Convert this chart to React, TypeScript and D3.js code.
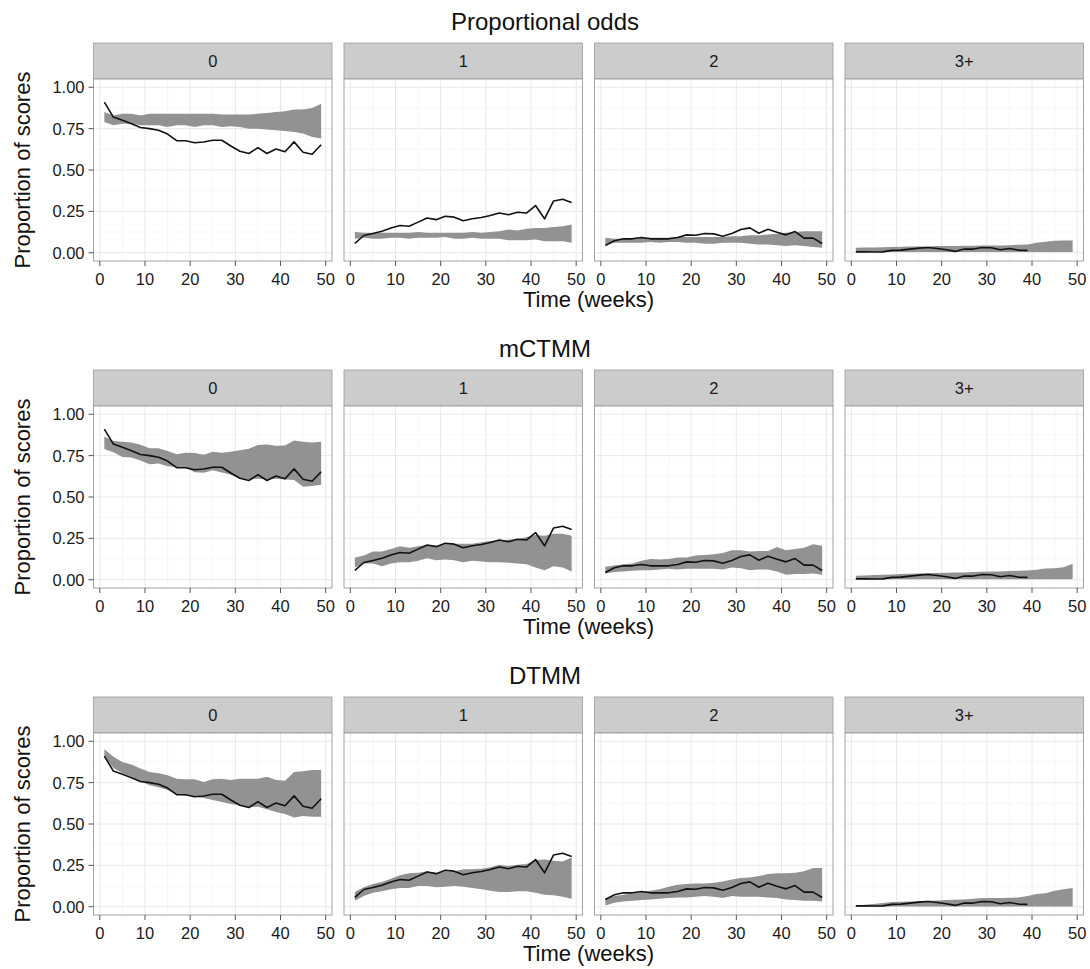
import React from "react";
import * as d3 from "d3";

// time points (weeks)
const weeks = [1, 3, 5, 7, 9, 11, 13, 15, 17, 19, 21, 23, 25, 27, 29, 31, 33, 35, 37, 39, 41, 43, 45, 47, 49];
const categories = ["0", "1", "2", "3+"];
const models = ["Proportional odds", "mCTMM", "DTMM"];
const xTicks = [0, 10, 20, 30, 40, 50];
const yTicks = [0, 0.25, 0.5, 0.75, 1];

// observed proportions (same in every row)
const observed0 = [0.91, 0.82, 0.8, 0.78, 0.757, 0.75, 0.74, 0.717, 0.677, 0.677, 0.665, 0.669, 0.68, 0.68, 0.645, 0.613, 0.6, 0.635, 0.6, 0.627, 0.61, 0.67, 0.607, 0.595, 0.653];
const observed1 = [0.056, 0.104, 0.116, 0.13, 0.15, 0.165, 0.16, 0.185, 0.21, 0.2, 0.22, 0.215, 0.193, 0.205, 0.213, 0.225, 0.24, 0.23, 0.245, 0.24, 0.285, 0.205, 0.313, 0.323, 0.303];
const observed2 = [0.044, 0.072, 0.084, 0.084, 0.092, 0.084, 0.084, 0.084, 0.092, 0.108, 0.106, 0.116, 0.114, 0.1, 0.116, 0.14, 0.15, 0.118, 0.142, 0.124, 0.108, 0.128, 0.088, 0.088, 0.056];
const observed3 = [0.005, 0.005, 0.004, 0.005, 0.014, 0.016, 0.022, 0.028, 0.032, 0.026, 0.018, 0.008, 0.022, 0.022, 0.032, 0.03, 0.018, 0.026, 0.016, 0.014];

// Proportional odds bands
const poUpper0 = [0.85, 0.83, 0.84, 0.84, 0.83, 0.84, 0.84, 0.84, 0.84, 0.84, 0.84, 0.84, 0.84, 0.835, 0.835, 0.835, 0.835, 0.84, 0.845, 0.85, 0.855, 0.865, 0.865, 0.875, 0.9];
const poLower0 = [0.79, 0.77, 0.78, 0.78, 0.77, 0.77, 0.77, 0.76, 0.77, 0.77, 0.76, 0.77, 0.77, 0.76, 0.765, 0.76, 0.75, 0.75, 0.745, 0.74, 0.735, 0.73, 0.72, 0.7, 0.69];
const poUpper1 = [0.125, 0.12, 0.12, 0.12, 0.12, 0.12, 0.12, 0.125, 0.12, 0.12, 0.12, 0.12, 0.12, 0.125, 0.12, 0.125, 0.13, 0.14, 0.135, 0.145, 0.15, 0.15, 0.155, 0.16, 0.17];
const poLower1 = [0.085, 0.09, 0.085, 0.085, 0.09, 0.09, 0.085, 0.09, 0.09, 0.09, 0.095, 0.085, 0.085, 0.09, 0.085, 0.085, 0.085, 0.075, 0.075, 0.075, 0.08, 0.07, 0.07, 0.07, 0.06];
const poUpper2 = [0.09, 0.085, 0.085, 0.09, 0.09, 0.09, 0.09, 0.09, 0.095, 0.095, 0.095, 0.095, 0.095, 0.095, 0.1, 0.1, 0.105, 0.105, 0.11, 0.115, 0.12, 0.125, 0.13, 0.13, 0.13];
const poLower2 = [0.05, 0.06, 0.06, 0.06, 0.06, 0.065, 0.06, 0.065, 0.065, 0.06, 0.06, 0.055, 0.055, 0.06, 0.06, 0.06, 0.055, 0.05, 0.05, 0.045, 0.04, 0.045, 0.04, 0.035, 0.03];
const poUpper3 = [0.03, 0.031, 0.032, 0.033, 0.035, 0.036, 0.037, 0.038, 0.038, 0.04, 0.04, 0.041, 0.042, 0.042, 0.043, 0.044, 0.044, 0.045, 0.048, 0.05, 0.06, 0.066, 0.072, 0.074, 0.074];
const poLower3 = [0.004, 0.004, 0.004, 0.004, 0.004, 0.005, 0.005, 0.005, 0.005, 0.005, 0.005, 0.005, 0.005, 0.005, 0.005, 0.005, 0.005, 0.005, 0.005, 0.005, 0.005, 0.005, 0.005, 0.005, 0.005];

// mCTMM bands
const mcUpper0 = [0.866, 0.838, 0.834, 0.83, 0.816, 0.794, 0.794, 0.778, 0.758, 0.768, 0.766, 0.756, 0.774, 0.768, 0.774, 0.782, 0.792, 0.814, 0.818, 0.81, 0.812, 0.842, 0.834, 0.83, 0.834];
const mcLower0 = [0.79, 0.77, 0.742, 0.738, 0.72, 0.698, 0.702, 0.686, 0.682, 0.678, 0.65, 0.646, 0.662, 0.648, 0.634, 0.614, 0.606, 0.61, 0.606, 0.61, 0.606, 0.602, 0.562, 0.566, 0.574];
const mcUpper1 = [0.134, 0.146, 0.17, 0.17, 0.186, 0.202, 0.194, 0.202, 0.21, 0.206, 0.214, 0.218, 0.218, 0.218, 0.226, 0.234, 0.238, 0.242, 0.246, 0.258, 0.27, 0.266, 0.278, 0.278, 0.266];
const mcLower1 = [0.074, 0.098, 0.098, 0.082, 0.098, 0.106, 0.106, 0.114, 0.13, 0.118, 0.122, 0.118, 0.106, 0.114, 0.11, 0.106, 0.106, 0.102, 0.098, 0.094, 0.074, 0.058, 0.082, 0.074, 0.05];
const mcUpper2 = [0.078, 0.086, 0.094, 0.098, 0.114, 0.126, 0.122, 0.126, 0.134, 0.134, 0.146, 0.15, 0.154, 0.162, 0.178, 0.178, 0.17, 0.174, 0.174, 0.198, 0.178, 0.186, 0.194, 0.214, 0.206];
const mcLower2 = [0.038, 0.046, 0.05, 0.054, 0.058, 0.058, 0.062, 0.066, 0.062, 0.066, 0.066, 0.066, 0.066, 0.062, 0.074, 0.07, 0.058, 0.062, 0.062, 0.05, 0.03, 0.034, 0.034, 0.038, 0.03];
const mcUpper3 = [0.024, 0.026, 0.028, 0.03, 0.032, 0.034, 0.036, 0.038, 0.04, 0.041, 0.042, 0.043, 0.044, 0.046, 0.048, 0.049, 0.05, 0.052, 0.054, 0.056, 0.06, 0.068, 0.07, 0.076, 0.096];
const mcLower3 = [0.003, 0.003, 0.003, 0.003, 0.003, 0.003, 0.003, 0.003, 0.003, 0.003, 0.003, 0.003, 0.003, 0.003, 0.003, 0.003, 0.003, 0.003, 0.003, 0.003, 0.003, 0.003, 0.003, 0.003, 0.003];

// DTMM bands
const dtUpper0 = [0.952, 0.907, 0.875, 0.859, 0.835, 0.815, 0.806, 0.794, 0.774, 0.77, 0.77, 0.754, 0.77, 0.774, 0.766, 0.774, 0.774, 0.774, 0.786, 0.766, 0.762, 0.815, 0.819, 0.827, 0.827];
const dtLower0 = [0.907, 0.839, 0.806, 0.786, 0.758, 0.734, 0.722, 0.706, 0.677, 0.673, 0.665, 0.657, 0.645, 0.633, 0.621, 0.613, 0.601, 0.605, 0.589, 0.573, 0.56, 0.54, 0.548, 0.544, 0.544];
const dtUpper1 = [0.089, 0.117, 0.137, 0.149, 0.169, 0.19, 0.202, 0.206, 0.214, 0.202, 0.214, 0.214, 0.226, 0.226, 0.23, 0.238, 0.254, 0.246, 0.254, 0.258, 0.282, 0.286, 0.278, 0.274, 0.298];
const dtLower1 = [0.036, 0.065, 0.085, 0.093, 0.105, 0.113, 0.113, 0.125, 0.125, 0.117, 0.121, 0.125, 0.121, 0.113, 0.105, 0.097, 0.089, 0.089, 0.093, 0.093, 0.085, 0.073, 0.069, 0.06, 0.048];
const dtUpper2 = [0.048, 0.065, 0.073, 0.081, 0.089, 0.097, 0.105, 0.121, 0.133, 0.137, 0.141, 0.141, 0.145, 0.153, 0.165, 0.173, 0.177, 0.185, 0.198, 0.202, 0.202, 0.206, 0.214, 0.234, 0.234];
const dtLower2 = [0.008, 0.024, 0.032, 0.036, 0.04, 0.044, 0.048, 0.052, 0.056, 0.056, 0.06, 0.065, 0.06, 0.052, 0.065, 0.06, 0.06, 0.06, 0.056, 0.052, 0.044, 0.04, 0.036, 0.036, 0.032];
const dtUpper3 = [0.008, 0.012, 0.016, 0.022, 0.028, 0.03, 0.032, 0.034, 0.036, 0.038, 0.04, 0.042, 0.044, 0.048, 0.052, 0.052, 0.052, 0.054, 0.056, 0.065, 0.077, 0.081, 0.097, 0.105, 0.113];
const dtLower3 = [0.001, 0.001, 0.001, 0.001, 0.001, 0.001, 0.001, 0.001, 0.001, 0.001, 0.001, 0.001, 0.001, 0.001, 0.001, 0.001, 0.001, 0.001, 0.001, 0.001, 0.001, 0.001, 0.001, 0.001, 0.001];

const observed = [observed0, observed1, observed2, observed3];
const bands = [
  [[poLower0, poUpper0], [poLower1, poUpper1], [poLower2, poUpper2], [poLower3, poUpper3]],
  [[mcLower0, mcUpper0], [mcLower1, mcUpper1], [mcLower2, mcUpper2], [mcLower3, mcUpper3]],
  [[dtLower0, dtUpper0], [dtLower1, dtUpper1], [dtLower2, dtUpper2], [dtLower3, dtUpper3]],
];

const width = 1090;
const height = 969;
const font = "'Liberation Sans', Arial, Helvetica, sans-serif";

const panelLeft = 93.5;
const panelPitch = 250.5;
const panelW = 238.5;
const rowTop = 43;
const rowPitch = 327;
const stripH = 36;
const panelH = 182;

const x = d3.scaleLinear().domain([-1.4, 51.4]).range([0, panelW]);
const y = d3.scaleLinear().domain([-0.05, 1.05]).range([panelH, 0]);

const xMinor = [5, 15, 25, 35, 45];
const yMinor = [0.125, 0.375, 0.625, 0.875];

const Panel = ({ m, c }: { m: number; c: number }) => {
  const [lower, upper] = bands[m][c];
  const obs = observed[c];
  const area = d3
    .area<number>()
    .x((d, i) => x(weeks[i]))
    .y0((d, i) => y(lower[i]))
    .y1((d) => y(d));
  const line = d3
    .line<number>()
    .x((d, i) => x(weeks[i]))
    .y((d) => y(d));

  const left = panelLeft + c * panelPitch;
  const top = rowTop + m * rowPitch;

  return (
    <g transform={`translate(${left},${top})`}>
      {/* strip */}
      <rect x={0} y={0} width={panelW} height={stripH} fill="#cccccc" stroke="#9a9a9a" strokeWidth={0.8} />
      <text x={panelW / 2} y={stripH / 2} dy="0.36em" textAnchor="middle" fontSize={16.5} fill="#1a1a1a">
        {categories[c]}
      </text>
      <g transform={`translate(0,${stripH})`}>
        <rect x={0} y={0} width={panelW} height={panelH} fill="white" />
        {xMinor.map((t) => (
          <line key={"xm" + t} x1={x(t)} x2={x(t)} y1={0} y2={panelH} stroke="#f5f5f5" strokeWidth={0.8} />
        ))}
        {yMinor.map((t) => (
          <line key={"ym" + t} x1={0} x2={panelW} y1={y(t)} y2={y(t)} stroke="#f5f5f5" strokeWidth={0.8} />
        ))}
        {xTicks.map((t) => (
          <line key={"xg" + t} x1={x(t)} x2={x(t)} y1={0} y2={panelH} stroke="#e8e8e8" strokeWidth={1} />
        ))}
        {yTicks.map((t) => (
          <line key={"yg" + t} x1={0} x2={panelW} y1={y(t)} y2={y(t)} stroke="#e8e8e8" strokeWidth={1} />
        ))}
        <path d={area(upper) || ""} fill="#929292" />
        <path d={line(obs) || ""} fill="none" stroke="#111" strokeWidth={1.6} strokeLinejoin="round" />
        <rect x={0} y={0} width={panelW} height={panelH} fill="none" stroke="#9a9a9a" strokeWidth={0.9} />
        {/* x axis */}
        {xTicks.map((t) => (
          <g key={"xt" + t} transform={`translate(${x(t)},${panelH})`}>
            <line y1={0} y2={5} stroke="#555" strokeWidth={1} />
            <text y={24} textAnchor="middle" fontSize={16.5} fill="#1a1a1a">
              {t}
            </text>
          </g>
        ))}
        {/* y axis only on the first column */}
        {c === 0 &&
          yTicks.map((t) => (
            <g key={"yt" + t} transform={`translate(0,${y(t)})`}>
              <line x1={-5} x2={0} stroke="#555" strokeWidth={1} />
              <text x={-9} dy="0.36em" textAnchor="end" fontSize={16.5} fill="#1a1a1a">
                {d3.format(".2f")(t)}
              </text>
            </g>
          ))}
      </g>
    </g>
  );
};

export default function App() {
  const plotsCenter = panelLeft + (3 * panelPitch + panelW) / 2;
  return (
    <svg
      width={width}
      height={height}
      style={{ position: "absolute", left: 0, top: 0, background: "white", fontFamily: font }}
    >
      <rect width={width} height={height} fill="white" />
      {models.map((name, m) => {
        const top = rowTop + m * rowPitch;
        return (
          <g key={name}>
            <text x={width / 2} y={top - 13} textAnchor="middle" fontSize={24} fill="#111">
              {name}
            </text>
            {categories.map((cat, c) => (
              <Panel key={cat} m={m} c={c} />
            ))}
            <text x={plotsCenter} y={top + stripH + panelH + 46} textAnchor="middle" fontSize={22} fill="#111">
              Time (weeks)
            </text>
            <text
              transform={`translate(30,${top + stripH + panelH / 2}) rotate(-90)`}
              textAnchor="middle"
              fontSize={22}
              fill="#111"
            >
              Proportion of scores
            </text>
          </g>
        );
      })}
    </svg>
  );
}
